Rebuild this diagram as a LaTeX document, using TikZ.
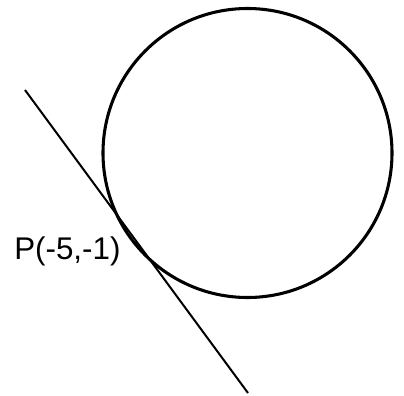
\documentclass[tikz,border=0pt]{standalone}
\usepackage{fontspec}
\setmainfont{Liberation Sans}
\usepackage{tikz}
\usetikzlibrary{calc}

\begin{document}
\begin{tikzpicture}[x=0.75pt, y=-0.75pt,
			kreis/.style={draw, line width=2.3pt},
			tangente/.style={draw, line width=1.5pt},
			font=\fontsize{23.5}{28}\selectfont]
			\useasboundingbox (0,0) rectangle (404,396); %Bildbereich
			% Kreis
			\coordinate (M) at (247.5,153);
			\draw[kreis] (M) circle (144.5);
			% Tangente
			\coordinate (A) at (25,90);
			\coordinate (B) at (248,393);
			\draw[tangente] (A) -- (B);
			% Beschriftung
			\node[anchor=base west, inner sep=0pt] (lblP) at (14,259) {P(-5,-1)};
		\end{tikzpicture}
\end{document}
